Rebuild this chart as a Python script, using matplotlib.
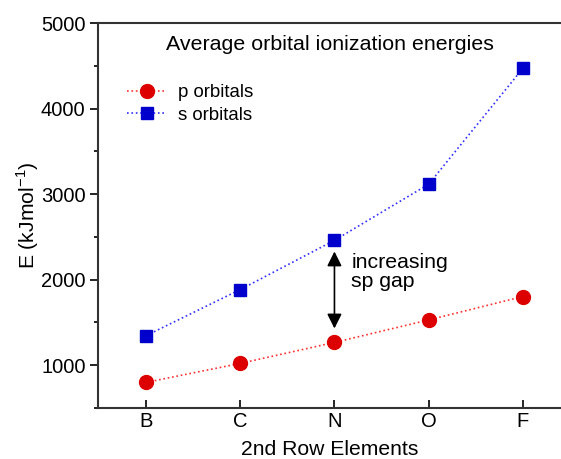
import matplotlib
matplotlib.use('Agg')
import matplotlib.pyplot as plt
from matplotlib.ticker import MultipleLocator

plt.rcParams['font.family'] = ['Liberation Sans', 'DejaVu Sans']

elements = ['B', 'C', 'N', 'O', 'F']
x = [1, 2, 3, 4, 5]
p_orbitals = [800, 1022, 1267, 1530, 1803]
s_orbitals = [1346, 1885, 2460, 3116, 4470]

fig = plt.figure(figsize=(5.61, 4.59), dpi=100)
ax = fig.add_axes([0.1747, 0.111, 0.8253, 0.8388])

ax.plot(x, p_orbitals, color='#ff3030', linestyle=':', linewidth=1.2,
        marker='o', markersize=10, markerfacecolor='#dd0000',
        markeredgecolor='#dd0000', label='p orbitals')
ax.plot(x, s_orbitals, color='#3030ff', linestyle=':', linewidth=1.2,
        marker='s', markersize=9, markerfacecolor='#0000cc',
        markeredgecolor='#0000cc', label='s orbitals')

ax.set_xlim(0.49, 5.405)
ax.set_ylim(500, 5000)
ax.set_xticks(x)
ax.set_xticklabels(elements)
ax.yaxis.set_major_locator(MultipleLocator(1000))
ax.yaxis.set_minor_locator(MultipleLocator(500))
ax.tick_params(axis='x', direction='in', length=6, width=1.2, labelsize=14.5, pad=3)
ax.tick_params(axis='y', which='major', direction='out', length=6, width=1.2,
               labelsize=14.5, pad=3)
ax.tick_params(axis='y', which='minor', direction='out', length=3, width=1.2)
ax.spines['right'].set_visible(False)
for s in ['left', 'bottom', 'top']:
    ax.spines[s].set_linewidth(1.5)
    ax.spines[s].set_color('#333333')

ax.set_xlabel('2nd Row Elements', fontsize=15.2, labelpad=6)
ax.set_ylabel('E (kJmol$^{\\mathregular{-1}}$)', fontsize=15.2, labelpad=0)

ax.text(0.5, 0.945, 'Average orbital ionization energies', transform=ax.transAxes,
        ha='center', va='center', fontsize=15.4)

ax.annotate('', xy=(3, 1430), xytext=(3, 2330),
            arrowprops=dict(arrowstyle='<|-|>', color='black', lw=1.2,
                            mutation_scale=22, shrinkA=0, shrinkB=0))
ax.text(3.18, 2090, 'increasing\nsp gap', fontsize=15.3, ha='left', va='center',
        linespacing=1.05)

ax.legend(loc='center left', bbox_to_anchor=(0.027, 0.79), frameon=False,
          fontsize=13.4, handlelength=2.1, handletextpad=0.6, labelspacing=0.3)

fig.savefig('out.png', dpi=100)
